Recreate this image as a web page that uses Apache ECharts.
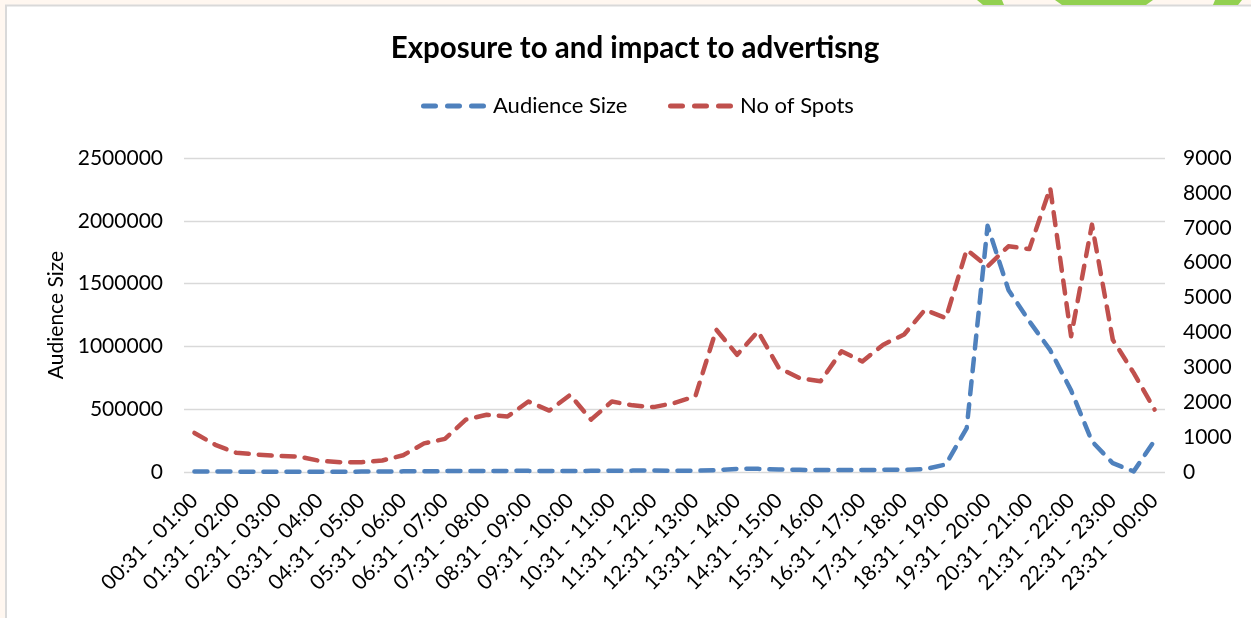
<!DOCTYPE html>
<html>
<head>
<meta charset="utf-8">
<script src="https://cdn.jsdelivr.net/npm/echarts/dist/echarts.min.js"></script>
<style>
  html, body { margin: 0; padding: 0; background: #FFF7F0; }
  #chart { width: 1251px; height: 618px; }
</style>
</head>
<body>
<div id="chart"></div>
<script>
// Half-hour slots from 00:31 to 00:00
const slots = [
  '00:31 - 01:00', '01:01 - 01:30', '01:31 - 02:00', '02:01 - 02:30', '02:31 - 03:00', '03:01 - 03:30',
  '03:31 - 04:00', '04:01 - 04:30', '04:31 - 05:00', '05:01 - 05:30', '05:31 - 06:00', '06:01 - 06:30',
  '06:31 - 07:00', '07:01 - 07:30', '07:31 - 08:00', '08:01 - 08:30', '08:31 - 09:00', '09:01 - 09:30',
  '09:31 - 10:00', '10:01 - 10:30', '10:31 - 11:00', '11:01 - 11:30', '11:31 - 12:00', '12:01 - 12:30',
  '12:31 - 13:00', '13:01 - 13:30', '13:31 - 14:00', '14:01 - 14:30', '14:31 - 15:00', '15:01 - 15:30',
  '15:31 - 16:00', '16:01 - 16:30', '16:31 - 17:00', '17:01 - 17:30', '17:31 - 18:00', '18:01 - 18:30',
  '18:31 - 19:00', '19:01 - 19:30', '19:31 - 20:00', '20:01 - 20:30', '20:31 - 21:00', '21:01 - 21:30',
  '21:31 - 22:00', '22:01 - 22:30', '22:31 - 23:00', '23:01 - 23:30', '23:31 - 00:00'
];

const audienceSize = [
  4000, 3500, 3000, 2500, 2000, 2000, 2000, 2500, 3000, 4000, 5000, 6000,
  7000, 8000, 8000, 9000, 9000, 8000, 8000, 9000, 10000, 11000, 12000, 10000,
  10000, 15000, 25000, 25000, 20000, 17000, 15000, 15000, 16000, 17000, 18000, 22000,
  60000, 350000, 1960000, 1450000, 1200000, 970000, 650000, 244000, 70000, 5000, 250000
];

const spots = [
  1120, 780, 550, 500, 460, 440, 320, 280, 280, 330, 480, 820,
  950, 1500, 1640, 1590, 2020, 1760, 2210, 1500, 2020, 1910, 1860, 1980,
  2170, 4080, 3360, 4030, 2980, 2690, 2600, 3460, 3170, 3650, 3940, 4650,
  4410, 6370, 5890, 6470, 6390, 8140, 3890, 7090, 3790, 2840, 1790
];

const FONT = 'Lato';
const BLUE = '#4F81BD';
const RED = '#C0504D';
const DASH_ICON = 'path://M2.5,0h12a2.5,2.5 0 0 1 0,5h-12a2.5,2.5 0 0 1 0,-5z' +
  'M26.5,0h12a2.5,2.5 0 0 1 0,5h-12a2.5,2.5 0 0 1 0,-5z' +
  'M50.5,0h12a2.5,2.5 0 0 1 0,5h-12a2.5,2.5 0 0 1 0,-5z';

const plain = v => String(v);

const chart = echarts.init(document.getElementById('chart'));

const legendBase = {
  top: 90,
  icon: DASH_ICON,
  itemWidth: 65,
  itemHeight: 5,
  textStyle: { fontFamily: FONT, fontSize: 22, color: '#000', padding: [0, 0, 0, 2] }
};

chart.setOption({
  backgroundColor: '#FFF7F0',
  animation: false,
  graphic: [
    { type: 'rect', z: -10, shape: { x: 6, y: 5.5, width: 1300, height: 700 },
      style: { fill: '#FFFFFF', stroke: '#D9D9D9', lineWidth: 2 } },
    { type: 'polygon', z: -9, shape: { points: [[977, 0], [1002, 0], [1004, 5], [983, 5]] }, style: { fill: '#92D050' } },
    { type: 'polygon', z: -9, shape: { points: [[1055, 0], [1153, 0], [1146, 5], [1062, 5]] }, style: { fill: '#92D050' } },
    { type: 'polygon', z: -9, shape: { points: [[1215, 0], [1242, 0], [1238, 5], [1213, 5]] }, style: { fill: '#92D050' } }
  ],
  title: {
    text: 'Exposure to and impact to advertisng',
    left: 630,
    textAlign: 'center',
    top: 28,
    textStyle: { fontFamily: FONT, fontSize: 29.5, fontWeight: 'bold', color: '#000' }
  },
  legend: [
    Object.assign({ left: 416, data: ['Audience Size'] }, legendBase),
    Object.assign({ left: 663, data: ['No of Spots'] }, legendBase)
  ],
  grid: { left: 184, right: 86, top: 158, bottom: 146 },
  xAxis: {
    type: 'category',
    data: slots,
    boundaryGap: true,
    axisLine: { show: false },
    axisTick: { show: false },
    axisLabel: {
      interval: 1,
      rotate: 45,
      margin: 25,
      fontFamily: FONT,
      fontSize: 21,
      color: '#000'
    }
  },
  yAxis: [
    {
      type: 'value',
      min: 0, max: 2500000, interval: 500000,
      name: 'Audience Size',
      nameLocation: 'middle',
      nameGap: 108,
      nameTextStyle: { fontFamily: FONT, fontSize: 21, color: '#000' },
      axisLine: { show: false },
      axisTick: { show: false },
      axisLabel: { margin: 21, fontFamily: FONT, fontSize: 21, color: '#000', formatter: plain },
      splitLine: { lineStyle: { color: '#D9D9D9', width: 1.3 } }
    },
    {
      type: 'value',
      min: 0, max: 9000, interval: 1000,
      position: 'right',
      axisLine: { show: false },
      axisTick: { show: false },
      axisLabel: { margin: 18, fontFamily: FONT, fontSize: 21, color: '#000', formatter: plain },
      splitLine: { show: false }
    }
  ],
  series: [
    {
      name: 'Audience Size',
      type: 'line',
      yAxisIndex: 0,
      data: audienceSize,
      showSymbol: false,
      symbol: 'none',
      color: BLUE,
      lineStyle: { color: BLUE, width: 4.5, type: [13, 10], cap: 'round', join: 'round' },
      z: 3
    },
    {
      name: 'No of Spots',
      type: 'line',
      yAxisIndex: 1,
      data: spots,
      showSymbol: false,
      symbol: 'none',
      color: RED,
      lineStyle: { color: RED, width: 4.5, type: [13, 10], cap: 'round', join: 'round' },
      z: 2
    }
  ]
});
</script>
</body>
</html>
